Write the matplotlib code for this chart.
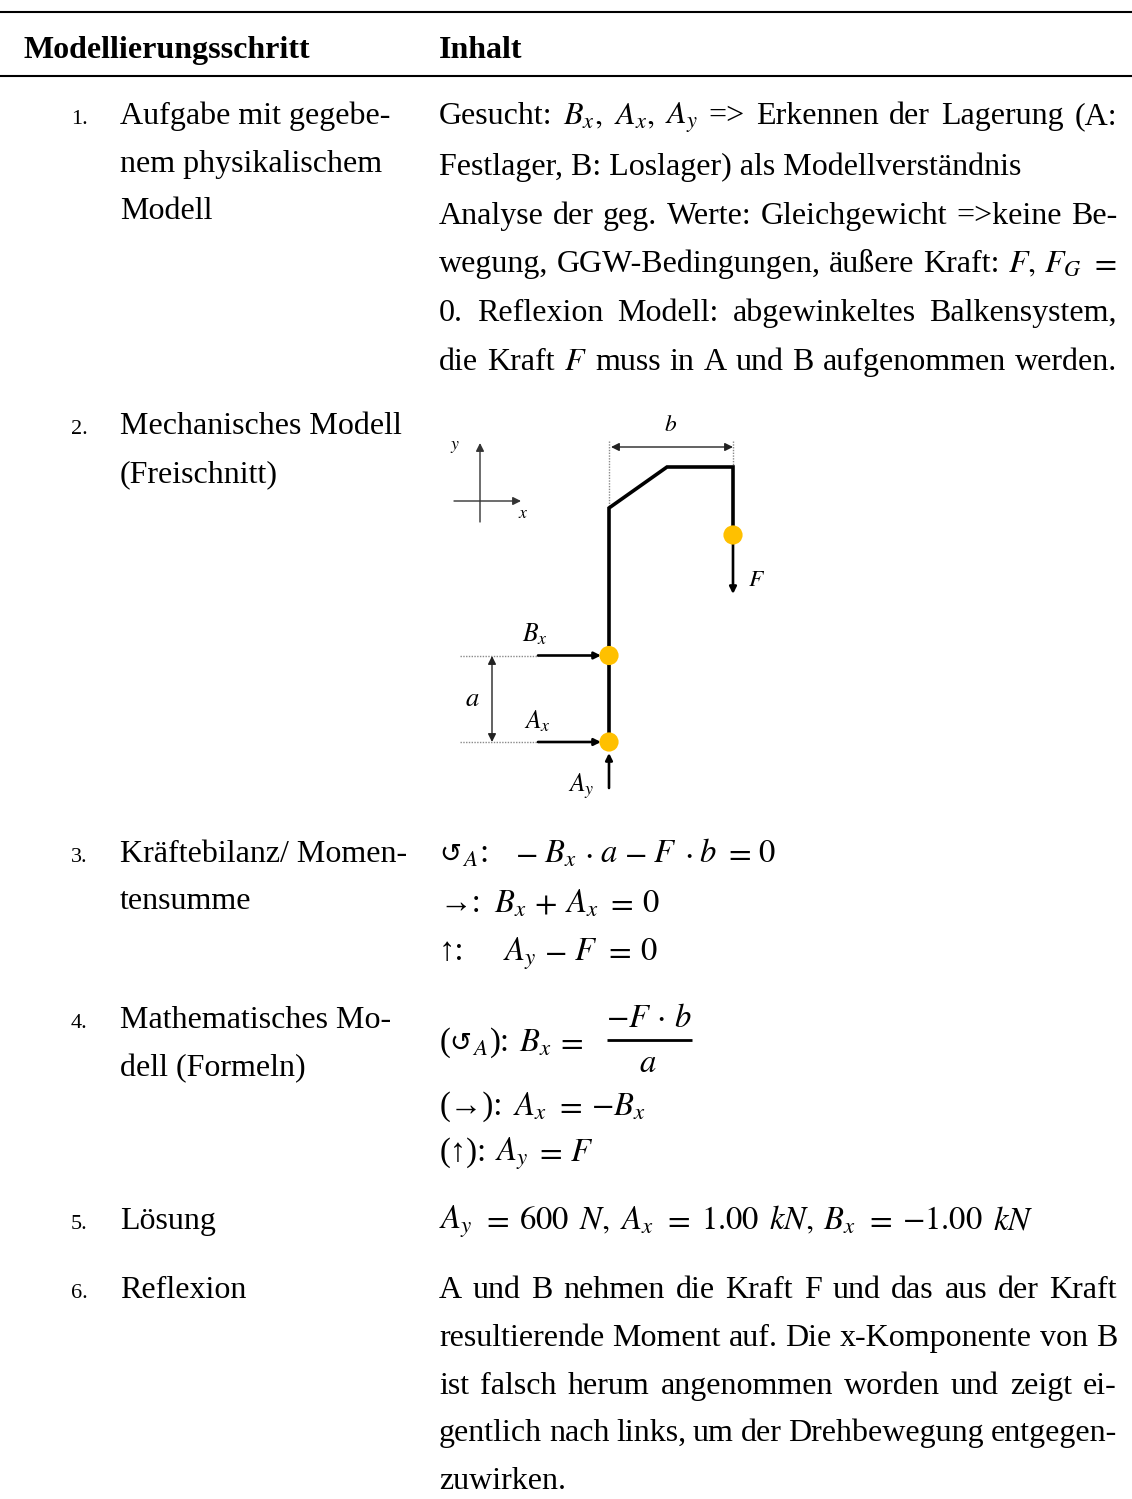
import matplotlib
matplotlib.use("Agg")
import matplotlib.pyplot as plt
from matplotlib.patches import Circle

plt.rcParams['font.family'] = ['Liberation Serif', 'DejaVu Sans']
plt.rcParams['mathtext.fontset'] = 'stix'

W, H = 1132, 1499
FS = 23.0      # body text size
NUM_FS = 16.0
MFS = 23.5
L0 = 120       # left column
R0 = 439       # right column
R1 = 1117      # justified right edge

headers = ["Modellierungsschritt", "Inhalt"]
step_numbers = [("1.", 124), ("2.", 434), ("3.", 862), ("4.", 1028), ("5.", 1229), ("6.", 1298)]
step_labels = [
    ("Aufgabe mit gegebe-", 124), ("nem physikalischem", 172), ("Modell", 219),
    ("Mechanisches Modell", 434), ("(Freischnitt)", 482),
    ("Kräftebilanz/ Momen-", 862), ("tensumme", 909),
    ("Mathematisches Mo-", 1028), ("dell (Formeln)", 1076),
    ("Lösung", 1229), ("Reflexion", 1298),
]
# (text, baseline, justified)
content_lines = [
    (r"Gesucht:  $B_x,$ $A_x,$ $A_y$ => Erkennen der Lagerung (A:", 124, True),
    (r"Festlager, B: Loslager) als Modellverständnis", 175, False),
    (r"Analyse der geg. Werte: Gleichgewicht =>keine Be-", 224, True),
    (r"wegung, GGW-Bedingungen, äußere Kraft:  $F,$ $F_G$ $=$", 272, True),
    (r"0. Reflexion Modell: abgewinkeltes Balkensystem,", 321, True),
    (r"die Kraft $F$ muss in A und B aufgenommen werden.", 370, True),
    (r"A und B nehmen die Kraft F und das aus der Kraft", 1298, True),
    (r"resultierende Moment auf. Die x-Komponente von B", 1346, True),
    (r"ist falsch herum angenommen worden und zeigt ei-", 1394, True),
    (r"gentlich nach links, um der Drehbewegung entgegen-", 1441, True),
    (r"zuwirken.", 1489, False),
]
# (x, baseline, symbol) : fixed symbols in front of the formulas
formula_marks = [
    (439, 862, "\u21ba"), (462, 862, r"$_A$"), (479, 862, ":"),
    (439, 912, "\u2192:"),
    (439, 960, "\u2191:"),
    (440, 1051, "("), (449, 1051, "\u21ba"), (472, 1051, r"$_A$"), (490, 1051, "):"),
    (440, 1115, "(\u2192):"),
    (440, 1161, "(\u2191):"),
]
# (x0, x1, baseline, tokens) : tokens spread over x0..x1
formulas = [
    (515, 776, 862, r"$-$ $B_x$ $\cdot$ $a$ $-$ $F$ $\cdot$ $b$ $=$ $0$"),
    (494, 659, 912, r"$B_x$ $+$ $A_x$ $=$ $0$"),
    (503, 657, 960, r"$A_y$ $-$ $F$ $=$ $0$"),
    (519, 584, 1051, r"$B_x$ $=$"),
    (513, 646, 1115, r"$A_x$ $=$ $-B_x$"),
    (495, 593, 1161, r"$A_y$ $=$ $F$"),
    (439, 1033, 1229, r"$A_y$ $=$ $600$ $N,$ $A_x$ $=$ $1.00$ $kN,$ $B_x$ $=$ $-1.00$ $kN$"),
]
fraction = (r"$-F\,\cdot\,b$", r"$a$")

# structural diagram
beam_x = [609, 609, 667, 733, 733]
beam_y = [742, 508, 467, 467, 535]
joints = [(733, 535), (609, 655.5), (609, 742)]
force_arrows = [((733, 535), (733, 594)), ((538, 655.5), (601, 655.5)),
                ((538, 742), (601, 742)), ((609, 788), (609, 753))]
axis_arrows = [((454, 501), (521, 501)), ((480, 522), (480, 443))]
dim_arrows = [((492, 656), (492, 742)), ((611, 447), (733, 447))]
guides = [((460, 538), (655.5, 655.5)), ((460, 538), (742, 742)),
          ((609, 609), (441, 508)), ((733, 733), (441, 465))]
diagram_labels = [(455, 446, "y", 16), (523, 513, "x", 16), (671, 425, "b", 21), (757, 580, "F", 21),
                  (535, 634, "B_x", 23), (472, 699, "a", 24), (537, 721, "A_x", 23), (581, 786, "A_y", 23)]

fig = plt.figure(figsize=(W / 100, H / 100), dpi=100, facecolor="white")
ax = fig.add_axes([0, 0, 1, 1])
ax.set_xlim(0, W)
ax.set_ylim(H, 0)
ax.axis("off")

# rules
for y in (12, 76):
    ax.plot([0, W], [y, y], color="black", lw=1.5, solid_capstyle="butt")

ax.text(24, 58, headers[0], fontsize=FS, fontweight="bold", va="baseline")
ax.text(R0, 58, headers[1], fontsize=FS, fontweight="bold", va="baseline")

for s, y in step_numbers:
    ax.text(71, y, s, fontsize=NUM_FS, va="baseline")
for s, y in step_labels:
    ax.text(L0, y, s, fontsize=FS, va="baseline")

fig.canvas.draw()
renderer = fig.canvas.get_renderer()


def spread(s, x0, x1, y, fs):
    """Place the space-separated tokens of s so that they fill x0..x1."""
    tokens = s.split()
    arts = [ax.text(x0, y, t, fontsize=fs, va="baseline") for t in tokens]
    widths = [a.get_window_extent(renderer).width for a in arts]
    gap = (x1 - x0 - sum(widths)) / (len(tokens) - 1)
    x = x0
    for a, w in zip(arts, widths):
        a.set_x(x)
        x += w + gap


for s, y, j in content_lines:
    if j:
        spread(s, R0, R1, y, FS)
    else:
        ax.text(R0, y, s, fontsize=FS, va="baseline")

for x, y, s in formula_marks:
    ax.text(x, y, s, fontsize=19 if s == "\u21ba" else MFS, va="baseline")

for x0, x1, y, s in formulas:
    spread(s, x0, x1, y, MFS)

# fraction
ax.text(649, 1027, fraction[0], fontsize=MFS, ha="center", va="baseline")
ax.plot([607, 692], [1040, 1040], color="black", lw=2, solid_capstyle="butt")
ax.text(648, 1072, fraction[1], fontsize=MFS, ha="center", va="baseline")

# diagram
for xs, ys in guides:
    ax.plot(xs, ys, color="#8a8a8a", lw=1.0, ls=(0, (1, 1)), zorder=1)
ax.plot(beam_x, beam_y, color="black", lw=2.6, solid_joinstyle="miter", zorder=2)


def arrow(p0, p1, lw, style, ms, color="black"):
    ax.annotate("", xy=p1, xytext=p0, zorder=3,
                arrowprops=dict(arrowstyle=style, lw=lw, color=color, mutation_scale=ms,
                                shrinkA=0, shrinkB=0))


for p0, p1 in force_arrows:
    arrow(p0, p1, 1.9, "-|>", 10)
for p0, p1 in axis_arrows:
    arrow(p0, p1, 1.0, "-|>", 12, "#333333")
for p0, p1 in dim_arrows:
    arrow(p0, p1, 1.0, "<|-|>", 12, "#222222")

for c in joints:
    ax.add_patch(Circle(c, 9.6, color="#FFC000", zorder=4, lw=0))

for x, y, s, fs in diagram_labels:
    ax.text(x, y, f"${s}$", fontsize=fs * 0.8, ha="center", va="center")

fig.savefig("out.png", dpi=100)
